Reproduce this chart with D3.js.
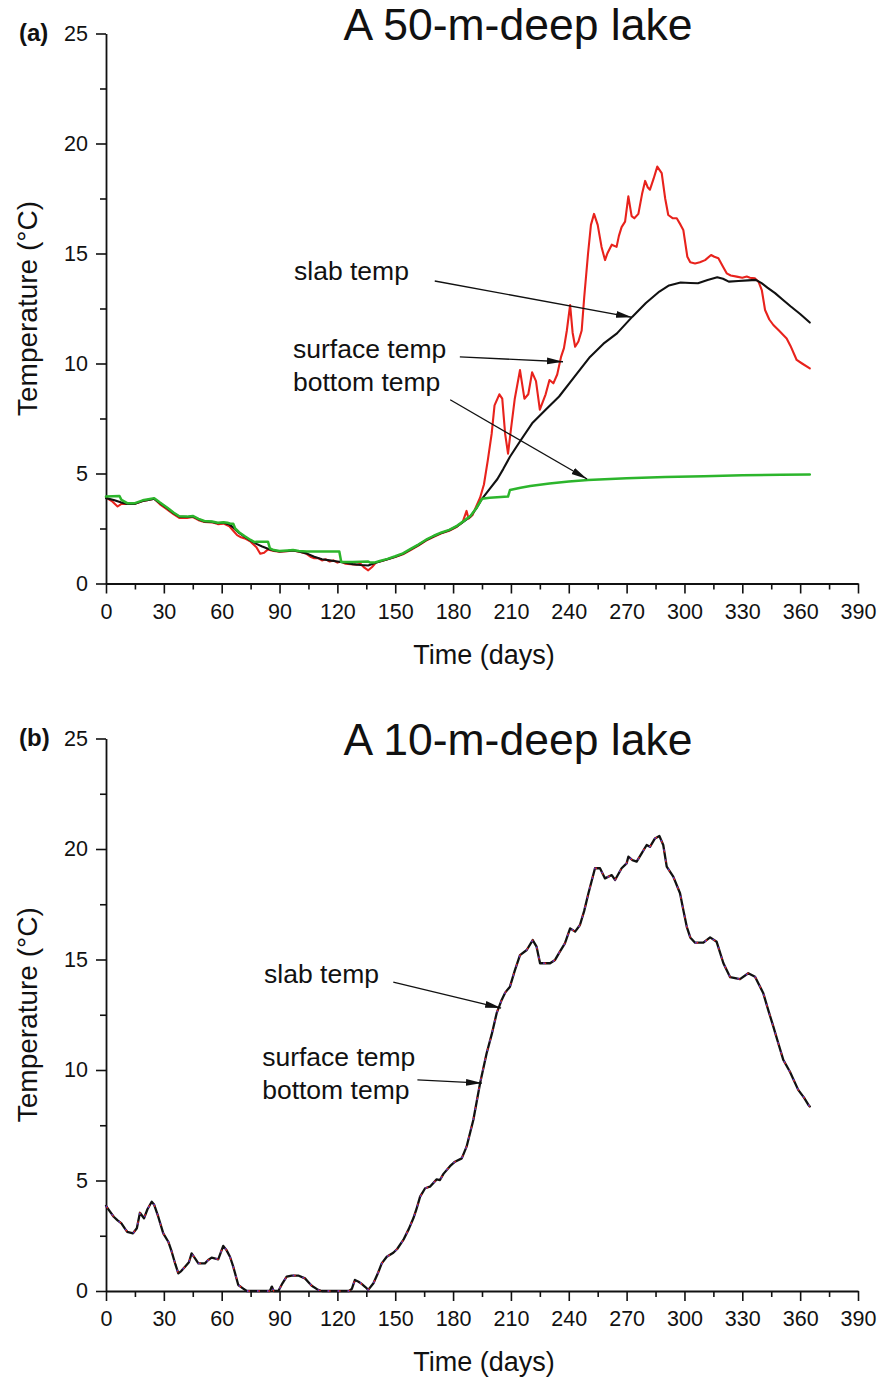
<!DOCTYPE html>
<html>
<head>
<meta charset="utf-8">
<script src="https://cdn.jsdelivr.net/npm/d3@7"></script>
<style>
  html, body { margin: 0; padding: 0; background: #fff; }
  svg text { font-family: "Liberation Sans", Arial, Helvetica, sans-serif; fill: #111; }
</style>
</head>
<body>
<svg id="chart" width="881" height="1379"></svg>
<script>
// ---- Axis ticks ----
const dayTicks = d3.range(0, 391, 30);
const dayMinorTicks = d3.range(15, 391, 30);
const tempTicks = [0, 5, 10, 15, 20, 25];
const tempMinorTicks = [2.5, 7.5, 12.5, 17.5, 22.5];

// ---- (a) 50-m-deep lake: [day, temperature °C] ----
const surfaceA = [
  [0,3.9],[3,3.75],[6,3.5],[8,3.62],[11,3.62],[15,3.62],[19,3.75],[22,3.8],[25,3.85],[28,3.6],
  [32,3.35],[35,3.15],[38,2.98],[42,2.98],[45,3.02],[48,2.88],[51,2.8],[55,2.78],[58,2.7],[61,2.72],
  [64,2.6],[66,2.4],[68,2.2],[70,2.1],[72,2.05],[75,1.9],[78,1.65],[80,1.35],[82,1.4],[84,1.55],
  [87,1.48],[90,1.45],[94,1.47],[97,1.5],[100,1.45],[104,1.35],[106,1.22],[108,1.15],[110,1.15],[112,1.05],
  [114,1.1],[116,1.0],[118,1.05],[120,0.95],[122,1.0],[124,0.9],[127,0.88],[130,0.85],[132,0.9],[134,0.72],
  [136,0.6],[138,0.75],[140,0.95],[143,1.02],[146,1.1],[150,1.2],[154,1.33],[158,1.52],[162,1.72],[166,1.95],
  [170,2.12],[174,2.28],[178,2.4],[182,2.58],[185,2.8],[187,3.3],[188,2.95],[190,3.1],[192,3.5],[194,3.9],
  [196,4.5],[198,5.6],[200,6.8],[201.5,8.1],[204,8.6],[205.5,8.4],[207,6.8],[208.5,5.9],[210,7.0],[212,8.4],
  [214.7,9.7],[217,8.4],[219,8.6],[221,9.6],[223,9.2],[225,7.9],[228,8.6],[230,9.25],[232,9.1],[234,9.5],
  [236,10.3],[237.5,10.7],[239,11.5],[240.7,12.66],[242,11.4],[243.3,10.76],[245,11.0],[246.7,11.5],[248,13.0],[250,15.0],
  [251.5,16.3],[253.1,16.8],[255,16.3],[257,15.3],[258.8,14.7],[260,15.0],[262.3,15.4],[264.8,15.3],[266,15.8],[267.4,16.2],
  [269.2,16.45],[270.9,17.6],[272.6,16.7],[274,16.6],[276.1,16.8],[278,17.7],[279.6,18.3],[281,18.0],[282.1,17.9],[284,18.4],
  [285.9,18.95],[288.2,18.65],[290,17.5],[291.6,16.75],[294,16.6],[296,16.6],[298,16.3],[299.4,16.07],[301.5,14.85],[303,14.6],
  [305.5,14.55],[308,14.6],[310.7,14.7],[313.8,14.93],[315.5,14.85],[317.6,14.78],[320,14.4],[321.9,14.1],[324,14.0],[327.1,13.95],
  [330,13.9],[332.3,13.95],[334,13.9],[336.6,13.87],[338.5,13.7],[340.1,13.34],[341.8,12.43],[344,12.0],[346.1,11.75],[349,11.5],
  [353,11.14],[355,10.8],[358.2,10.16],[361,10.0],[365,9.78]
];
const slabA = [
  [0,3.88],[4,3.8],[8,3.68],[11,3.62],[15,3.62],[19,3.75],[22,3.8],[25,3.85],[28,3.65],[32,3.4],
  [35,3.2],[38,3.04],[42,3.02],[45,3.05],[48,2.92],[51,2.82],[55,2.8],[58,2.74],[61,2.76],[64,2.68],
  [66,2.55],[69,2.3],[72,2.12],[75,1.95],[78,1.8],[81,1.68],[84,1.58],[87,1.5],[90,1.46],[94,1.48],
  [97,1.5],[100,1.46],[104,1.37],[108,1.22],[112,1.1],[116,1.05],[120,1.0],[124,0.95],[128,0.88],[132,0.84],
  [136,0.82],[139,0.92],[142,1.0],[146,1.1],[150,1.22],[154,1.35],[158,1.55],[162,1.75],[166,1.97],[170,2.15],
  [174,2.3],[178,2.42],[182,2.6],[186,2.85],[189,3.05],[192,3.4],[195,3.85],[199,4.3],[203,4.75],[206,5.2],
  [209.5,5.76],[215,6.5],[221,7.28],[228,7.9],[235,8.5],[243,9.4],[251,10.3],[258,10.9],[265,11.37],[273,12.13],
  [280,12.75],[287,13.27],[292,13.55],[298,13.68],[303,13.66],[307,13.65],[312,13.8],[317,13.92],[320,13.85],[323,13.72],
  [328,13.75],[333,13.78],[337,13.8],[340,13.65],[343,13.45],[347,13.2],[351,12.9],[355,12.6],[360,12.25],[365,11.86]
];
const bottomA = [
  [0,3.95],[7,3.98],[8,3.8],[11,3.65],[15,3.65],[19,3.78],[22,3.83],[25,3.88],[28,3.68],[32,3.43],
  [35,3.23],[38,3.06],[42,3.04],[45,3.07],[48,2.94],[51,2.84],[55,2.82],[58,2.76],[61,2.78],[63,2.76],
  [64.5,2.72],[66,2.72],[67,2.5],[69,2.33],[72,2.15],[75,1.98],[77,1.88],[78,1.9],[84,1.9],[85,1.6],
  [87,1.52],[90,1.48],[94,1.5],[97,1.52],[100,1.48],[104,1.45],[106,1.45],[121,1.45],[122,0.98],[128,0.98],
  [136,1.0],[137,0.95],[139,0.95],[142,1.02],[146,1.12],[150,1.24],[154,1.37],[158,1.57],[162,1.77],[166,1.99],
  [170,2.17],[174,2.32],[178,2.44],[182,2.62],[186,2.87],[189,3.07],[192,3.42],[195,3.85],[199,3.9],[208.5,3.95],
  [209.5,4.25],[215,4.35],[220,4.43],[230,4.55],[240,4.64],[250,4.7],[270,4.78],[290,4.84],[310,4.88],[330,4.92],
  [350,4.94],[365,4.95]
];

// ---- (b) 10-m-deep lake: the shallow lake stays mixed, so all three profiles coincide ----
const slabB = [
  [0,3.85],[2,3.6],[4,3.36],[6,3.2],[8,3.06],[10,2.8],[11,2.68],[14,2.61],[16,2.84],[17.6,3.54],
  [19.7,3.29],[21.5,3.7],[23.7,4.04],[25,3.9],[27.1,3.36],[29.7,2.61],[32.3,2.23],[34,1.8],[36,1.2],[37.5,0.8],
  [39,0.9],[41,1.1],[43,1.3],[44.4,1.7],[46,1.5],[47.9,1.25],[51.3,1.25],[53,1.4],[54.8,1.51],[58.2,1.43],
  [60.8,2.04],[62.5,1.85],[64.3,1.55],[66,1.1],[68.6,0.27],[71,0.12],[73,0],[85,0],[86,0.2],[87,0],
  [89.4,0],[91.5,0.35],[93.7,0.65],[96.3,0.7],[99.7,0.7],[103.2,0.57],[105,0.4],[106.7,0.24],[110,0.05],[112,0],
  [126,0],[127.5,0.1],[129.1,0.5],[131,0.42],[132.6,0.32],[134.5,0.18],[136,0.05],[138.7,0.35],[141,0.8],[143,1.25],
  [145.6,1.55],[149,1.73],[151,1.9],[154.2,2.31],[157,2.8],[159.4,3.29],[161,3.7],[162.9,4.27],[165.5,4.65],[168,4.72],
  [171.5,5.05],[173.2,5.02],[175,5.3],[178.4,5.65],[181,5.85],[184.5,6.0],[187,6.53],[190.5,7.74],[194,9.4],[197.4,10.76],
  [200,11.6],[202.6,12.57],[205.2,13.17],[207,13.5],[209.5,13.77],[212,14.5],[214.7,15.2],[218.2,15.43],[221.3,15.88],[223.3,15.58],
  [225.1,14.83],[230.3,14.83],[232.9,14.98],[235,15.3],[238,15.73],[240.7,16.41],[243.3,16.26],[245.8,16.56],[248,17.2],[250.2,18.0],
  [253.6,19.13],[256.2,19.13],[258.8,18.67],[262.3,18.82],[264,18.6],[267.4,19.13],[270,19.35],[270.9,19.65],[273,19.5],[275.2,19.43],
  [277.8,19.8],[280.4,20.18],[282.1,20.1],[284.7,20.48],[287,20.59],[289,20.18],[290.8,19.2],[294.2,18.75],[297.7,18.0],[299.5,17.2],
  [301.2,16.48],[303,16.0],[305.5,15.76],[309.8,15.76],[313.3,16.0],[316.7,15.8],[318.5,15.3],[320.2,14.83],[323.7,14.2],[328.8,14.11],
  [333.1,14.38],[336.6,14.22],[340.9,13.47],[343.5,12.7],[346.1,11.96],[348.7,11.2],[351.3,10.45],[354.7,9.92],[359,9.1],[362,8.75],
  [364.3,8.42],[365,8.35]
];
const surfaceB = slabB;
const bottomB = slabB;

const svg = d3.select("#chart");

// arrowhead used by the annotation leaders
svg.append("defs").append("marker")
  .attr("id", "arrow")
  .attr("markerUnits", "userSpaceOnUse")
  .attr("viewBox", "0 0 16 8")
  .attr("refX", 16).attr("refY", 4)
  .attr("markerWidth", 16).attr("markerHeight", 8)
  .attr("orient", "auto")
  .append("path").attr("d", "M0,0.6 L16,4 L0,7.4 Z").attr("fill", "#111");

const x = d3.scaleLinear().domain([0, 390]).range([106, 858]);

function drawPanel(cfg) {
  const y = d3.scaleLinear().domain([0, 25]).range([cfg.bottom, cfg.top]);
  const g = svg.append("g");

  // minor ticks
  g.append("g").attr("transform", `translate(0,${cfg.bottom})`)
    .call(d3.axisBottom(x).tickValues(dayMinorTicks).tickSize(6).tickSizeOuter(0).tickFormat(""))
    .call(s => s.select(".domain").remove());
  g.append("g").attr("transform", `translate(${x(0)},0)`)
    .call(d3.axisLeft(y).tickValues(tempMinorTicks).tickSize(6).tickSizeOuter(0).tickFormat(""))
    .call(s => s.select(".domain").remove());

  // major ticks + labels
  const xa = g.append("g").attr("transform", `translate(0,${cfg.bottom})`)
    .call(d3.axisBottom(x).tickValues(dayTicks).tickSize(10).tickSizeOuter(0).tickPadding(10));
  const ya = g.append("g").attr("transform", `translate(${x(0)},0)`)
    .call(d3.axisLeft(y).tickValues(tempTicks).tickSize(10).tickSizeOuter(0).tickPadding(8));
  [xa, ya].forEach(a => {
    a.selectAll("text").attr("font-size", 21.5).attr("font-family", null);
    a.select(".domain").attr("stroke", "#111").attr("stroke-width", 1.8);
  });
  g.selectAll(".tick line").attr("stroke", "#111").attr("stroke-width", 1.6);

  // axis titles
  g.append("text").attr("x", 484).attr("y", cfg.bottom + 80)
    .attr("text-anchor", "middle").attr("font-size", 27).text("Time (days)");
  g.append("text")
    .attr("transform", `translate(37,${(cfg.top + cfg.bottom) / 2}) rotate(-90)`)
    .attr("text-anchor", "middle").attr("font-size", 28).text("Temperature (°C)");

  // panel tag and title
  g.append("text").attr("x", 19).attr("y", cfg.top + 7)
    .attr("font-size", 24).attr("font-weight", "bold").text(cfg.tag);
  g.append("text").attr("x", 518).attr("y", cfg.titleY)
    .attr("text-anchor", "middle").attr("font-size", 44.5).text(cfg.title);

  // series
  const line = d3.line().x(d => x(d[0])).y(d => y(d[1]));
  cfg.series.forEach(s => {
    g.append("path").datum(s.data).attr("d", line)
      .attr("fill", "none").attr("stroke", s.color).attr("stroke-width", s.width)
      .attr("stroke-dasharray", s.dash || null)
      .attr("stroke-linejoin", "round").attr("stroke-linecap", s.cap || "round");
  });

  // annotations with leader arrows
  cfg.notes.forEach(n => {
    n.lines.forEach((t, i) => {
      g.append("text").attr("x", x(n.text[0])).attr("y", y(n.text[1]) + i * 33)
        .attr("font-size", 26.5).text(t);
    });
    g.append("line")
      .attr("x1", x(n.from[0])).attr("y1", y(n.from[1]))
      .attr("x2", x(n.to[0])).attr("y2", y(n.to[1]))
      .attr("stroke", "#111").attr("stroke-width", 1.3)
      .attr("marker-end", "url(#arrow)");
  });
}

drawPanel({
  top: 33.5, bottom: 583.5, tag: "(a)", title: "A 50-m-deep lake", titleY: 40,
  series: [
    { data: surfaceA, color: "#e8221c", width: 2.1 },
    { data: slabA, color: "#111", width: 2.1 },
    { data: bottomA, color: "#2cb52c", width: 2.5 }
  ],
  notes: [
    { lines: ["slab temp"], text: [97.5, 13.8], from: [170.5, 13.75], to: [272.8, 12.1] },
    { lines: ["surface temp", "bottom temp"], text: [97, 10.25], from: [183.5, 10.3], to: [237, 10.08] },
    { lines: [], text: [0, 0], from: [178.5, 8.35], to: [249.5, 4.75] }
  ]
});

drawPanel({
  top: 738.5, bottom: 1291, tag: "(b)", title: "A 10-m-deep lake", titleY: 755,
  series: [
    { data: slabB, color: "#111", width: 2.3 },
    { data: surfaceB, color: "#e8221c", width: 1.4, dash: "3,7", cap: "butt" },
    { data: bottomB, color: "#3b3bd6", width: 1.4, dash: "1.5,8.5", cap: "butt" }
  ],
  notes: [
    { lines: ["slab temp"], text: [82, 13.95], from: [149, 13.98], to: [204.9, 12.8] },
    { lines: ["surface temp", "bottom temp"], text: [81, 10.2], from: [161.5, 9.55], to: [195, 9.41] }
  ]
});
</script>
</body>
</html>
